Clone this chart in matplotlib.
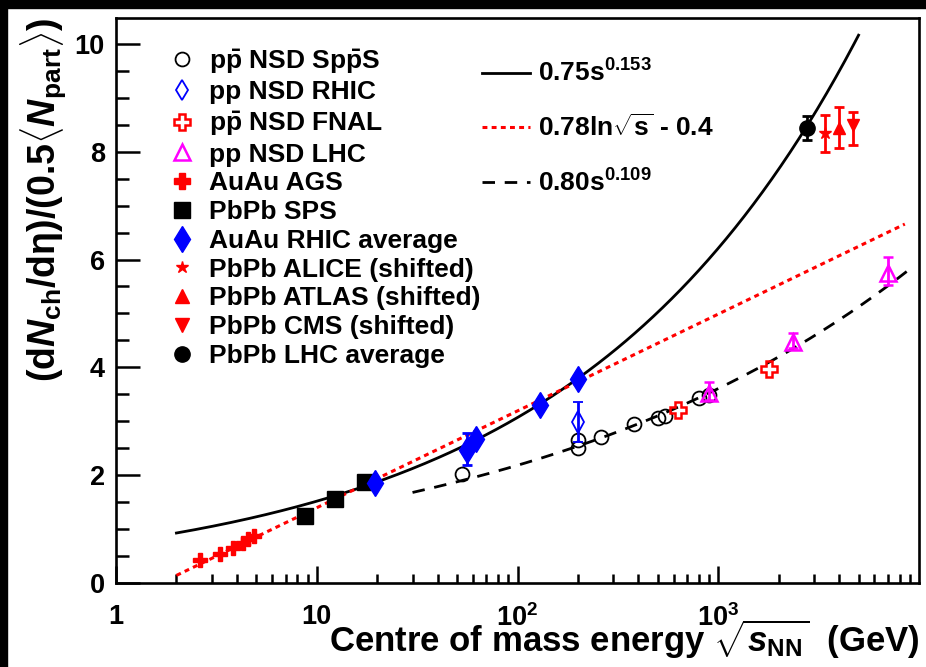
import matplotlib.pyplot as plt
import numpy as np
from matplotlib.lines import Line2D
from matplotlib.patches import Rectangle
from matplotlib.ticker import LogLocator, MultipleLocator, NullFormatter

plt.rcParams["font.family"] = ["Liberation Sans", "DejaVu Sans"]
plt.rcParams["mathtext.fontset"] = "custom"
plt.rcParams["mathtext.rm"] = "Liberation Sans"
plt.rcParams["mathtext.it"] = "Liberation Sans:italic"
plt.rcParams["mathtext.bf"] = "Liberation Sans:bold"
plt.rcParams["mathtext.bfit"] = "Liberation Sans:bold:italic"

# --- data (sqrt(s_NN) in GeV, normalised multiplicity) ---
ags_x = [2.63, 3.28, 3.84, 4.29, 4.55, 4.85]
ags_y = [0.42, 0.53, 0.64, 0.74, 0.81, 0.88]

sps_x = [8.7, 12.3, 17.3]
sps_y = [1.24, 1.55, 1.87]

rhic_aa_x = [19.6, 56.0, 62.4, 130.0, 200.0]
rhic_aa_y = [1.85, 2.47, 2.67, 3.30, 3.78]
rhic_aa_elo = [0.0, 0.28, 0.0, 0.0, 0.0]
rhic_aa_ehi = [0.0, 0.31, 0.0, 0.0, 0.0]

spps_x = [53, 200, 200, 260, 380, 500, 546, 800, 900]
spps_y = [2.02, 2.50, 2.65, 2.71, 2.95, 3.06, 3.10, 3.43, 3.48]

rhic_pp_x = [200]
rhic_pp_y = [2.99]
rhic_pp_err = [0.37]

fnal_x = [630, 1800]
fnal_y = [3.21, 3.97]

lhc_pp_x = [900, 2360, 7000]
lhc_pp_y = [3.52, 4.47, 5.75]
lhc_pp_elo = [0.12, 0.12, 0.22]
lhc_pp_ehi = [0.20, 0.17, 0.30]

lhc_avg_x = [2760]
lhc_avg_y = [8.44]
lhc_avg_err = [0.22]

alice_x, alice_y = [3400], [8.35]
alice_elo, alice_ehi = [0.35], [0.33]
atlas_x, atlas_y = [4000], [8.44]
atlas_elo, atlas_ehi = [0.37], [0.39]
cms_x, cms_y = [4700], [8.50]
cms_elo, cms_ehi = [0.37], [0.24]

# fit functions quoted in the legend, with the range each is drawn over
aa_pow = (0.75, 0.153, 2.0, 5000.0)     # a * s^b
aa_log = (0.78, -0.4, 2.0, 8500.0)      # a * ln(sqrt s) + c
pp_pow = (0.80, 0.109, 30.0, 9000.0)    # a * s^b

fig = plt.figure(figsize=(9.26, 6.67), dpi=100)
fig.patches.append(Rectangle((0, 1 - 8 / 667), 1, 8 / 667, transform=fig.transFigure,
                             color="black", zorder=-1))
fig.patches.append(Rectangle((0, 0), 7 / 926, 1, transform=fig.transFigure,
                             color="black", zorder=-1))
ax = fig.add_axes([116 / 926, 84 / 667, 803 / 926, 565 / 667])

a, b, lo, hi = aa_pow
xs = np.geomspace(lo, hi, 300)
ax.plot(xs, a * xs ** (2 * b), color="black", lw=2.0, zorder=2)
a, c, lo, hi = aa_log
xs = np.geomspace(lo, hi, 300)
ax.plot(xs, a * np.log(xs) + c, color="red", lw=2.2, ls=(0, (1.6, 1.4)), zorder=2)
a, b, lo, hi = pp_pow
xs = np.geomspace(lo, hi, 300)
ax.plot(xs, a * xs ** (2 * b), color="black", lw=2.0, ls=(0, (4.5, 3.5)), zorder=2)

eb = dict(elinewidth=2.0, capsize=3.5, capthick=2.0, ls="none", zorder=4)
ax.plot(spps_x, spps_y, "o", ms=10, mfc="none", mec="black", mew=1.3, zorder=3)
ax.errorbar(rhic_pp_x, rhic_pp_y, yerr=rhic_pp_err, fmt="d", ms=11, mfc="none",
            mec="blue", mew=1.3, ecolor="blue", **eb)
ax.plot(fnal_x, fnal_y, "P", ms=12, mfc="none", mec="red", mew=1.8, zorder=4)
ax.errorbar(lhc_pp_x, lhc_pp_y, yerr=[lhc_pp_elo, lhc_pp_ehi], fmt="^", ms=11,
            mfc="none", mec="magenta", mew=1.8, ecolor="magenta", **eb)
ax.plot(ags_x, ags_y, "P", ms=10, color="red", zorder=4)
ax.plot(sps_x, sps_y, "s", ms=11, color="black", zorder=4)
ax.errorbar(rhic_aa_x, rhic_aa_y, yerr=[rhic_aa_elo, rhic_aa_ehi], fmt="d", ms=13,
            color="blue", ecolor="blue", **eb)
ax.errorbar(alice_x, alice_y, yerr=[alice_elo, alice_ehi], fmt="*", ms=9,
            color="red", ecolor="red", **eb)
ax.errorbar(atlas_x, atlas_y, yerr=[atlas_elo, atlas_ehi], fmt="^", ms=9,
            color="red", ecolor="red", **eb)
ax.errorbar(cms_x, cms_y, yerr=[cms_elo, cms_ehi], fmt="v", ms=9,
            color="red", ecolor="red", **eb)
ax.errorbar(lhc_avg_x, lhc_avg_y, yerr=lhc_avg_err, fmt="o", ms=11,
            color="black", ecolor="black", **eb)

ax.set_xscale("log")
ax.set_xlim(1, 1e4)
ax.set_ylim(0, 10.48)
ax.set_xticks([1, 10, 100, 1000])
ax.set_xticklabels(["1", "10", r"$\mathbf{10^{2}}$", r"$\mathbf{10^{3}}$"],
                   fontweight="bold")
ax.xaxis.set_minor_locator(LogLocator(base=10, subs=np.arange(2, 10)))
ax.xaxis.set_minor_formatter(NullFormatter())
ax.yaxis.set_major_locator(MultipleLocator(2))
ax.yaxis.set_minor_locator(MultipleLocator(0.5))
ax.tick_params(which="both", direction="in", top=False, right=False, width=1.8,
               labelsize=19.5)
ax.tick_params(axis="x", which="major", length=12.5, pad=15)
ax.tick_params(axis="x", which="minor", length=6.5)
ax.tick_params(axis="y", which="major", length=17, pad=8)
ax.tick_params(axis="y", which="minor", length=9)
for lbl in ax.get_yticklabels():
    lbl.set_fontweight("bold")
for sp in ax.spines.values():
    sp.set_linewidth(1.9)

ax.set_xlabel(r"Centre of mass energy $\sqrt{\mathbfit{s}_{\mathbf{NN}}}$  (GeV)",
              fontsize=25, fontweight="bold", loc="right", labelpad=-10)
ax.set_ylabel(r"$\mathbf{(d}\mathbfit{N}_{\mathbf{ch}}\mathbf{/d\eta)/(0.5}\langle"
              r"\mathbfit{N}_{\mathbf{part}}\rangle\mathbf{)}$", fontsize=27, loc="top")
ax.yaxis.set_label_coords(-0.058, 1.0)

# legend of the data sets
pts = [
    Line2D([], [], ls="none", marker="o", ms=10, mfc="none", mec="black", mew=1.3),
    Line2D([], [], ls="none", marker="d", ms=10, mfc="none", mec="blue", mew=1.3),
    Line2D([], [], ls="none", marker="P", ms=12, mfc="none", mec="red", mew=1.8),
    Line2D([], [], ls="none", marker="^", ms=11, mfc="none", mec="magenta", mew=1.8),
    Line2D([], [], ls="none", marker="P", ms=11, color="red"),
    Line2D([], [], ls="none", marker="s", ms=11, color="black"),
    Line2D([], [], ls="none", marker="d", ms=13, color="blue"),
    Line2D([], [], ls="none", marker="*", ms=9, color="red"),
    Line2D([], [], ls="none", marker="^", ms=10, color="red"),
    Line2D([], [], ls="none", marker="v", ms=10, color="red"),
    Line2D([], [], ls="none", marker="o", ms=11, color="black"),
]
pt_labels = [
    r"$\mathbf{p\bar{p}}$ NSD Sp$\mathbf{\bar{p}}$S",
    "pp NSD RHIC",
    r"$\mathbf{p\bar{p}}$ NSD FNAL",
    "pp NSD LHC",
    "AuAu AGS",
    "PbPb SPS",
    "AuAu RHIC average",
    "PbPb ALICE (shifted)",
    "PbPb ATLAS (shifted)",
    "PbPb CMS (shifted)",
    "PbPb LHC average",
]
leg1 = ax.legend(pts, pt_labels, loc="upper left", bbox_to_anchor=(0.0654, 0.949),
                 frameon=False, borderpad=0, borderaxespad=0, handlelength=1.0,
                 handletextpad=0.55, labelspacing=0.18,
                 prop={"size": 19, "weight": "bold"})
ax.add_artist(leg1)

fits = [
    Line2D([], [], color="black", lw=2.0),
    Line2D([], [], color="red", lw=2.2, ls=(0, (1.6, 1.4))),
    Line2D([], [], color="black", lw=2.0, ls=(0, (4.5, 3.5))),
]
fit_labels = [
    r"0.75s$^{\mathbf{0.153}}$",
    r"0.78ln$\sqrt{\mathbf{s}}$ - 0.4",
    r"0.80s$^{\mathbf{0.109}}$",
]
ax.legend(fits, fit_labels, loc="upper left", bbox_to_anchor=(0.456, 0.926),
          frameon=False, borderpad=0, borderaxespad=0, handlelength=1.8,
          handletextpad=0.3, labelspacing=1.05, prop={"size": 19, "weight": "bold"})

fig.savefig("out.png", dpi=100)
